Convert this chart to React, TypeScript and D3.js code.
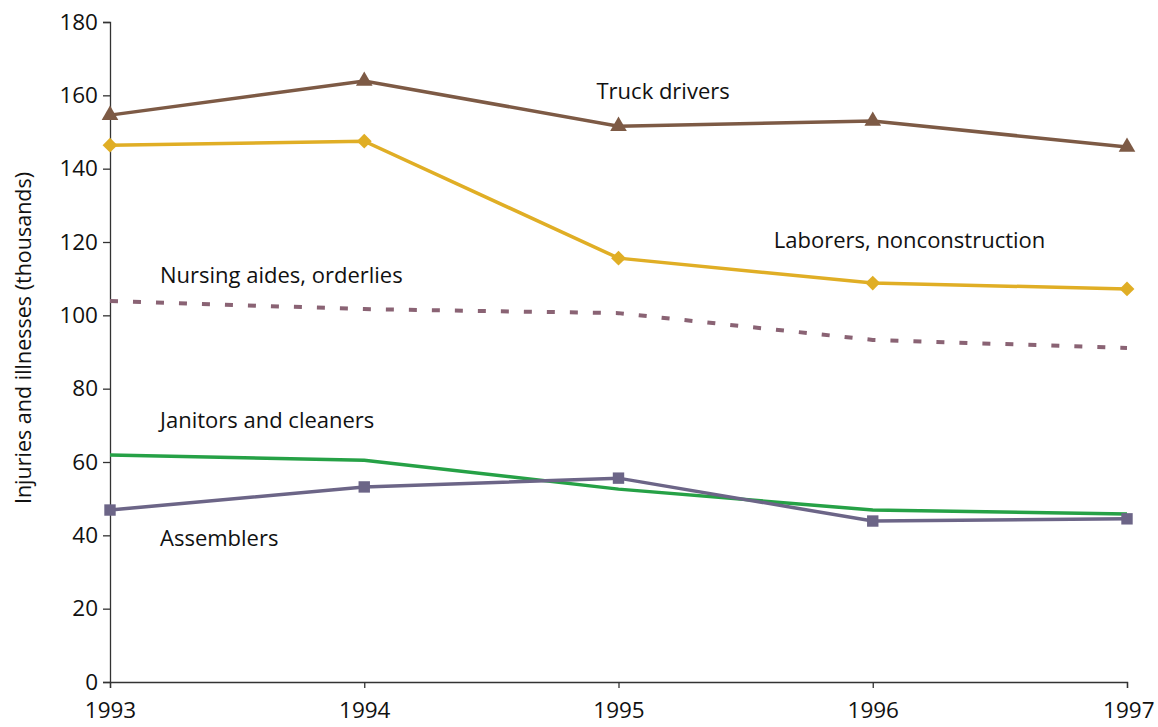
import React, { useEffect, useRef } from "react";
import * as d3 from "d3";

const years = [1993, 1994, 1995, 1996, 1997];
const yTicks = [0, 20, 40, 60, 80, 100, 120, 140, 160, 180];

const truckDrivers = [154.6, 163.9, 151.6, 153.0, 145.9];
const laborers = [146.4, 147.5, 115.6, 108.8, 107.2];
const nursingAides = [103.9, 101.7, 100.6, 93.3, 91.1];
const janitors = [61.9, 60.5, 52.6, 46.9, 45.8];
const assemblers = [46.9, 53.2, 55.6, 43.9, 44.5];

const series = [
  { name: "Truck drivers", values: truckDrivers, color: "#7d5a45", marker: "triangle", dash: null, lx: 1995, ly: 159, dx: -22 },
  { name: "Laborers, nonconstruction", values: laborers, color: "#e0ae25", marker: "diamond", dash: null, lx: 1996, ly: 118.5, dx: -99 },
  { name: "Nursing aides, orderlies", values: nursingAides, color: "#8a6374", marker: null, dash: "8,15", lx: 1993, ly: 108.8, dx: 50 },
  { name: "Janitors and cleaners", values: janitors, color: "#26a146", marker: null, dash: null, lx: 1993, ly: 69.3, dx: 50 },
  { name: "Assemblers", values: assemblers, color: "#6c6587", marker: "square", dash: null, lx: 1993, ly: 37.2, dx: 50 },
];

const font = "'Open Sans', 'Noto Sans', sans-serif";

export default function App() {
  const ref = useRef<SVGSVGElement>(null);

  useEffect(() => {
    const W = 1158, H = 727;
    const margin = { top: 22, right: 31, bottom: 45, left: 110 };
    const w = W - margin.left - margin.right;
    const h = H - margin.top - margin.bottom;

    const svg = d3.select(ref.current);
    svg.selectAll("*").remove();
    const g = svg.append("g").attr("transform", `translate(${margin.left},${margin.top})`);

    const x = d3.scaleLinear().domain([1993, 1997]).range([0, w]);
    const y = d3.scaleLinear().domain([0, 180]).range([h, 0]);

    // y axis
    const yAxis = g.append("g")
      .call(d3.axisLeft(y).tickValues(yTicks).tickSize(7).tickPadding(5).tickFormat(d3.format("d")));
    yAxis.select(".domain").attr("stroke", "#333").attr("stroke-width", 1.3);
    yAxis.selectAll(".tick line").attr("stroke", "#333").attr("stroke-width", 1.3);
    yAxis.selectAll(".tick text").attr("font-family", font).attr("font-size", 22.5).attr("fill", "#111");

    // x axis
    const xAxis = g.append("g")
      .attr("transform", `translate(0,${h})`)
      .call(d3.axisBottom(x).tickValues(years).tickSize(6).tickPadding(14).tickFormat(d3.format("d")));
    xAxis.select(".domain").attr("stroke", "#333").attr("stroke-width", 1.3);
    xAxis.selectAll(".tick line").attr("stroke", "#333").attr("stroke-width", 1.3);
    xAxis.selectAll(".tick text").attr("font-family", font).attr("font-size", 22.5).attr("fill", "#111");
    xAxis.selectAll(".tick text").filter((d) => d === 1997).attr("text-anchor", "end").attr("dx", 27);

    // y title
    svg.append("text")
      .attr("transform", `translate(31,338) rotate(-90)`)
      .attr("text-anchor", "middle")
      .attr("font-family", font)
      .attr("font-size", 21.5)
      .attr("fill", "#111")
      .text("Injuries and illnesses (thousands)");

    const line = d3.line<number>()
      .x((_, i) => x(years[i]))
      .y((d) => y(d));

    series.forEach((s) => {
      g.append("path")
        .datum(s.values)
        .attr("fill", "none")
        .attr("stroke", s.color)
        .attr("stroke-width", s.dash ? 4 : 3.5)
        .attr("stroke-dasharray", s.dash)
        .attr("d", line);

      if (s.marker) {
        const sym = s.marker === "triangle" ? d3.symbolTriangle : d3.symbolSquare;
        const size = s.marker === "triangle" ? 120 : s.marker === "diamond" ? 110 : 130;
        const rot = s.marker === "diamond" ? " rotate(45)" : "";
        g.selectAll(null)
          .data(s.values)
          .join("path")
          .attr("transform", (d, i) => `translate(${x(years[i])},${y(d)})${rot}`)
          .attr("d", d3.symbol().type(sym).size(size)())
          .attr("fill", s.color);
      }

      g.append("text")
        .attr("x", x(s.lx) + s.dx)
        .attr("y", y(s.ly))
        .attr("font-family", font)
        .attr("font-size", 22)
        .attr("fill", "#111")
        .text(s.name);
    });
  }, []);

  return (
    <svg
      ref={ref}
      width={1158}
      height={727}
      style={{ position: "absolute", left: 0, top: 0, display: "block" }}
    />
  );
}
